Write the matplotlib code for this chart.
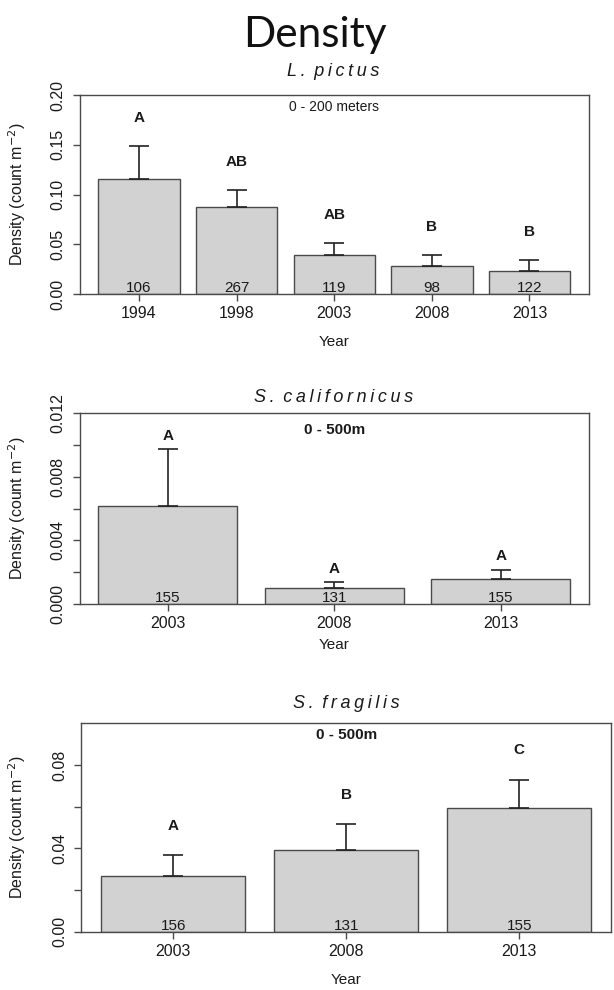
import numpy as np
import matplotlib
matplotlib.use("Agg")
import matplotlib.pyplot as plt
from matplotlib.ticker import FixedLocator

# L. pictus, 0 - 200 meters
lp_years = ["1994", "1998", "2003", "2008", "2013"]
lp_mean = [0.116, 0.087, 0.039, 0.028, 0.023]
lp_se = [0.033, 0.018, 0.012, 0.011, 0.011]
lp_n = [106, 267, 119, 98, 122]
lp_groups = ["A", "AB", "AB", "B", "B"]

# S. californicus, 0 - 500m
sc_years = ["2003", "2008", "2013"]
sc_mean = [0.00617, 0.00099, 0.00157]
sc_se = [0.00358, 0.00037, 0.00057]
sc_n = [155, 131, 155]
sc_groups = ["A", "A", "A"]

# S. fragilis, 0 - 500m
sf_years = ["2003", "2008", "2013"]
sf_mean = [0.0266, 0.0390, 0.0592]
sf_se = [0.0100, 0.0128, 0.0138]
sf_n = [156, 131, 155]
sf_groups = ["A", "B", "C"]

W, H = 614, 990
fig = plt.figure(figsize=(W / 100, H / 100), dpi=100)

FONT = ["Liberation Sans", "DejaVu Sans"]
TXT = "#1a1a1a"
LINE = "#4a4a4a"
THIN = "\u2009"


def rect(l, r, t, b):
    return [l / W, 1 - b / H, (r - l) / W, (b - t) / H]


def spaced(s):
    # letter-spaced italic species names, like the original
    words = [THIN.join(w) for w in s.split(" ")]
    return (THIN + " ").join(words)


def panel(box, years, mean, se, n, groups, ylim, ticks, labels, fmt,
          title, title_xy, depth, depth_y, depth_bold, letter_off, year_y):
    ax = fig.add_axes(rect(*box))
    x = 0.7 + 1.2 * np.arange(len(years))
    ax.bar(x, mean, width=1.0, color="#d2d2d2", edgecolor=LINE, linewidth=1.0, zorder=2)
    ax.errorbar(x, mean, yerr=[np.zeros(len(se)), se], fmt="none", ecolor="#222222",
                elinewidth=1.2, capsize=7.5, capthick=1.2, zorder=3)
    for xi, m, s, g, c in zip(x, mean, se, groups, n):
        ax.text(xi, m + s + letter_off, g, ha="center", va="center", fontsize=11,
                fontweight="bold", family=FONT, color=TXT)
        ax.annotate(str(c), (xi, 0), xytext=(0, 1.5), textcoords="offset points",
                    ha="center", va="baseline", fontsize=11, family=FONT, color=TXT, zorder=4)
    span = x[-1] + 0.5 - (x[0] - 0.5)
    ax.set_xlim(x[0] - 0.5 - 0.04 * span, x[-1] + 0.5 + 0.04 * span)
    ax.set_ylim(*ylim)
    ax.set_xticks(x)
    ax.set_xticklabels(years, fontsize=11.5, family=FONT, color=TXT)
    ax.yaxis.set_major_locator(FixedLocator(ticks))
    ax.set_yticklabels([fmt.format(t) if t in labels else "" for t in ticks],
                       fontsize=11.5, family=FONT, color=TXT, rotation=90, va="center")
    ax.tick_params(axis="both", length=5, width=1, color=LINE, pad=4)
    ax.tick_params(axis="y", pad=5)
    for sp in ax.spines.values():
        sp.set_color(LINE)
        sp.set_linewidth(1.0)
    ax.set_ylabel(r"Density (count m$^{-2}$)", fontsize=11.5, family=FONT, color=TXT)
    ax.yaxis.set_label_coords((28 - box[0]) / (box[1] - box[0]), 0.5)
    cx = (box[0] + box[1]) / 2
    fig.text(title_xy[0] / W, 1 - title_xy[1] / H, spaced(title), ha="center", va="baseline",
             fontsize=13, style="italic", family=FONT, color=TXT)
    fig.text(cx / W, 1 - depth_y / H, depth, ha="center", va="center",
             fontsize=11 if depth_bold else 10, fontweight="bold" if depth_bold else "normal",
             family=FONT, color=TXT)
    fig.text(cx / W, 1 - year_y / H, "Year", ha="center", va="center", fontsize=11,
             family=FONT, color=TXT)
    return ax


fig.text(315 / W, 1 - 46.5 / H, "Density", ha="center", va="baseline", fontsize=30.5,
         family=["Lato", "DejaVu Sans"], color="#111111")

panel((79.5, 589, 95, 294), lp_years, lp_mean, lp_se, lp_n, lp_groups, (0, 0.2),
      [0, 0.05, 0.10, 0.15, 0.20], [0, 0.05, 0.10, 0.15, 0.20], "{:.2f}",
      "L. pictus", (333, 76), "0 - 200 meters", 106.7, False, 0.028, 342)

panel((79.5, 589, 413.3, 604), sc_years, sc_mean, sc_se, sc_n, sc_groups, (0, 0.012),
      [0, 0.002, 0.004, 0.006, 0.008, 0.010, 0.012], [0, 0.004, 0.008, 0.012], "{:.3f}",
      "S. californicus", (334, 402), "0 - 500m", 430, True, 0.00085, 645)

panel((81.4, 611, 723.3, 931.7), sf_years, sf_mean, sf_se, sf_n, sf_groups, (0, 0.1),
      [0, 0.02, 0.04, 0.06, 0.08], [0, 0.04, 0.08], "{:.2f}",
      "S. fragilis", (346.5, 708), "0 - 500m", 735, True, 0.014, 980)

fig.savefig("out.png", dpi=100, facecolor="white")
